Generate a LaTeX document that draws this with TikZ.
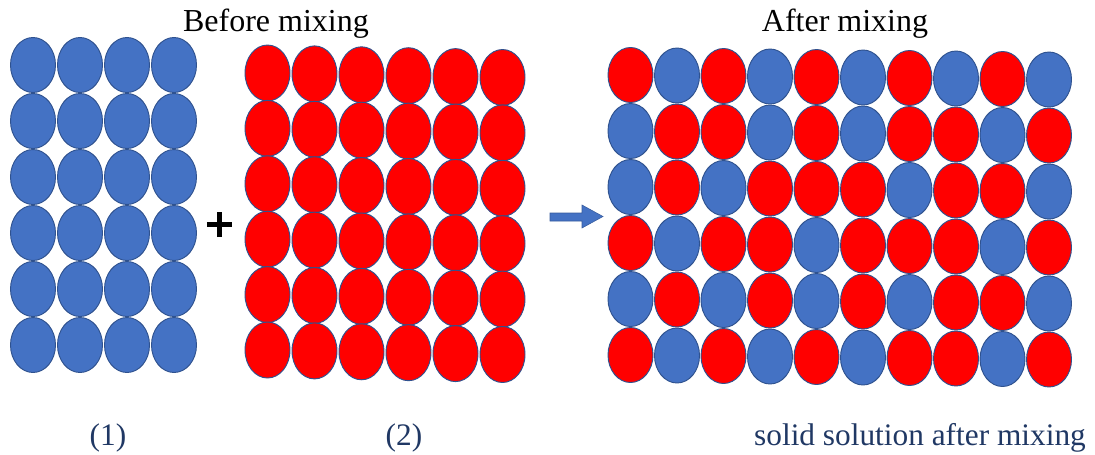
\documentclass[tikz,border=0pt]{standalone}
\usepackage{fontspec}
\setmainfont{Liberation Serif}
\usetikzlibrary{shapes.geometric}
\definecolor{ballR}{HTML}{FF0000}
\definecolor{ballB}{HTML}{4472C4}
\definecolor{rim}{HTML}{2F528F}
\definecolor{caption}{HTML}{203864}
\tikzset{
  atom/.style={ellipse, draw=rim, line width=0.7pt, inner sep=0pt,
               minimum width=33.75pt, minimum height=41.25pt, fill=#1},
  tallatom/.style={atom=#1, minimum height=42pt},
  headline/.style={anchor=base, font=\rmfamily\fontsize{24}{28}\selectfont, text=black},
  captext/.style={anchor=base, font=\rmfamily\fontsize{23.5}{28}\selectfont, text=caption},
  blockarrow/.style={fill=ballB, draw=ballB!80!black, line width=0.4pt},
  plusbar/.style={line width=4.3pt, draw=black}
}
\begin{document}
\begin{tikzpicture}[x=0.75pt, y=-0.75pt]
  \path[use as bounding box] (0,0) rectangle (1095,454);

  % titles
  \node[headline] (before) at (276,31.5) {Before mixing};
  \node[headline] (after)  at (845,31.5) {After mixing};

  % component (1): pure blue lattice, 4 x 6
  \foreach \i in {0,...,3}
    \foreach \j in {0,...,5}
      \node[atom=ballB] (one-\i-\j) at ({33+47*\i},{65+56*\j}) {};

  % plus sign between the two components
  \coordinate (plus) at (219.5,224.5);
  \draw[plusbar] ([xshift=-9.4pt]plus) -- ([xshift=9.4pt]plus);
  \draw[plusbar] ([yshift=-9.4pt]plus) -- ([yshift=9.4pt]plus);

  % component (2): pure red lattice, 6 x 6
  \foreach \i in {0,...,5}
    \foreach \j in {0,...,5}
      \node[tallatom=ballR] (two-\i-\j) at ({267.5+47*\i},{73+55.4*\j+0.9*\i}) {};

  % mixing arrow
  \path[blockarrow] (550,213) -- (582,213) -- (582,205) -- (603,216.5)
                    -- (582,228) -- (582,221) -- (550,221) -- cycle;

  % solid solution: mixed lattice, 10 x 6
  \foreach \row [count=\j from 0] in {
      {R,B,R,B,R,B,R,B,R,B},
      {B,R,R,B,R,B,R,R,B,R},
      {B,R,B,R,R,R,B,R,R,B},
      {R,B,R,R,B,R,R,R,B,R},
      {B,R,B,R,B,R,B,R,R,B},
      {R,B,R,B,R,B,R,R,B,R}}
    \foreach \c [count=\i from 0] in \row
      \node[atom=ball\c] (mix-\i-\j) at ({630.5+46.5*\i},{75+56*\j+0.5*\i}) {};

  % captions
  \node[captext] (cap1) at (108,445) {(1)};
  \node[captext] (cap2) at (404,445) {(2)};
  \node[captext] (cap3) at (920,445) {solid solution after mixing};
\end{tikzpicture}
\end{document}
